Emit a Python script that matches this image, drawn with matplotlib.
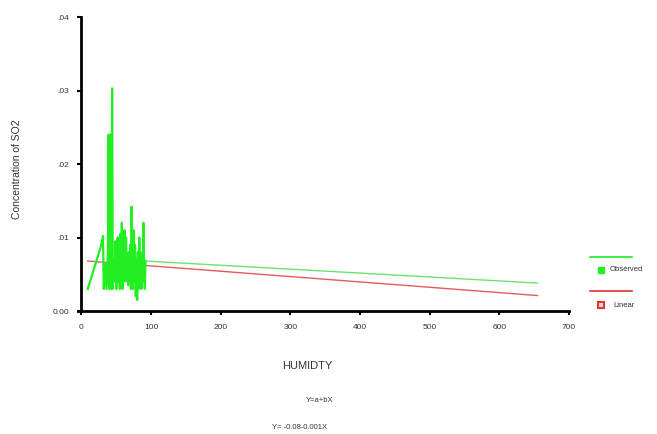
import matplotlib.pyplot as plt
import numpy as np

plt.rcParams['font.family'] = ['Liberation Sans', 'DejaVu Sans']

# observed SO2 concentration vs humidity (sorted by humidity)
humidity = [9, 28, 31, 32, 34, 36, 38, 39, 40, 42, 43, 44, 45, 46, 48, 49, 50,
            52, 53, 54, 55, 56, 57, 58, 59, 60, 61, 62, 63, 64, 65, 66, 67, 68,
            69, 70, 71, 72, 73, 74, 75, 76, 77, 78, 79, 80, 81, 82, 83, 84, 85,
            86, 87, 88, 89, 90, 91, 92, 655]
so2 = [0.0030, 0.0088, 0.0102, 0.0030, 0.0065, 0.0030, 0.0080, 0.0240, 0.0030,
       0.0240, 0.0030, 0.0303, 0.0030, 0.0070, 0.0040, 0.0095, 0.0030, 0.0100,
       0.0040, 0.0080, 0.0030, 0.0105, 0.0050, 0.0120, 0.0030, 0.0090, 0.0045,
       0.0110, 0.0040, 0.0100, 0.0050, 0.0060, 0.0035, 0.0080, 0.0040, 0.0090,
       0.0030, 0.0142, 0.0060, 0.0030, 0.0110, 0.0040, 0.0090, 0.0020, 0.0070,
       0.0015, 0.0080, 0.0030, 0.0100, 0.0045, 0.0080, 0.0030, 0.0060, 0.0040,
       0.0120, 0.0060, 0.0030, 0.0068, 0.0038]

# linear fit endpoints
fit_x = [9, 655]
fit_y = [0.0068, 0.0021]

xticks = [0, 100, 200, 300, 400, 500, 600, 700]
yticks = [0.0, 0.01, 0.02, 0.03, 0.04]
ytick_labels = ['0.00', '.01', '.02', '.03', '.04']

green = '#22ee22'
red = '#dd3333'
txt = '#333333'

fig = plt.figure(figsize=(6.57, 4.34), dpi=100)
ax = fig.add_axes([0.1187, 0.2834, 0.7473, 0.6774])

ax.plot(humidity[:-1], so2[:-1], color=green, lw=1.6, zorder=3)
# the far outlier is joined with a thin line
ax.plot(humidity[-2:], so2[-2:], color='#55dd55', lw=1.0, alpha=0.85, zorder=3)
ax.plot(fit_x, fit_y, color=red, lw=1.0, alpha=0.8, zorder=2)

ax.set_xlim(-5, 700)
ax.set_ylim(0, 0.04)
ax.set_xticks(xticks)
ax.set_xticklabels([str(v) for v in xticks])
ax.set_yticks(yticks)
ax.set_yticklabels(ytick_labels)
ax.spines['top'].set_visible(False)
ax.spines['right'].set_visible(False)
ax.spines['left'].set_linewidth(2)
ax.spines['bottom'].set_linewidth(2)
ax.spines['left'].set_position(('data', 0))
ax.tick_params(direction='out', length=3, width=1.5, labelsize=6, colors='black',
               labelcolor=txt, pad=6)

fig.text(0.026, 0.61, 'Concentration of SO2', rotation=90, ha='center', va='center',
         fontsize=7.5, color=txt)
fig.text(0.467, 0.157, 'HUMIDTY', ha='center', va='center', fontsize=8, color=txt)
fig.text(0.487, 0.078, 'Y=a+bX', ha='center', va='center', fontsize=5.5, color=txt)
fig.text(0.456, 0.014, 'Y= -0.08-0.001X', ha='center', va='center', fontsize=5.5, color=txt)

# legend drawn by hand in figure coordinates
fig.add_artist(plt.Line2D([0.898, 0.962], [0.408, 0.408], color=green, lw=1.2))
fig.add_artist(plt.Line2D([0.915], [0.378], marker='s', ms=5, color=green, ls=''))
fig.text(0.928, 0.378, 'Observed', fontsize=5.5, va='center', color=txt)
fig.add_artist(plt.Line2D([0.898, 0.962], [0.330, 0.330], color=red, lw=1.2))
fig.add_artist(plt.Line2D([0.915], [0.297], marker='s', ms=5, color=red, ls='',
                          markerfacecolor='#ffdddd', markeredgewidth=1.5))
fig.text(0.933, 0.297, 'Linear', fontsize=5.5, va='center', color=txt)

fig.savefig('out.png', dpi=100)
